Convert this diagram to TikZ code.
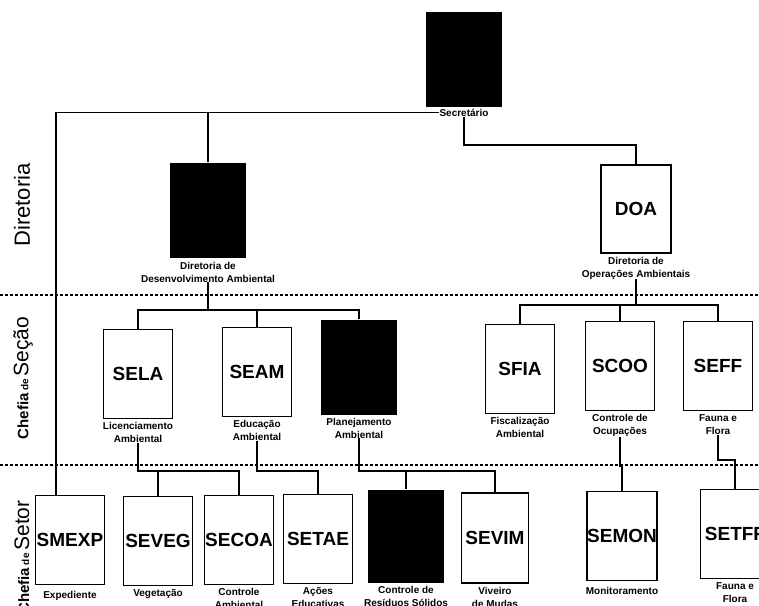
\documentclass[tikz,border=0pt]{standalone}
\usepackage{fontspec}
\setmainfont{Liberation Sans}
\usetikzlibrary{positioning}

\begin{document}
\begin{tikzpicture}[x=1pt, y=-1pt,
    unitbox/.style={draw, line width=1.4pt, minimum width=69pt, minimum height=89pt, inner sep=0pt, font=\fontsize{19}{19}\selectfont\bfseries},
    photobox/.style={fill=black, minimum width=76pt, minimum height=95pt, inner sep=0pt},
    caption/.style={font=\fontsize{10}{13}\selectfont\bfseries, align=center, inner sep=0pt},
    wire/.style={line width=1.3pt},
    tierline/.style={line width=1.1pt, dash pattern=on 3pt off 2pt}]
    \useasboundingbox (0,0) rectangle (759,605);
    \clip (0,0) rectangle (759,605);

    % Levels
    \draw[tierline] (0,295) -- (759,295);
    \draw[tierline] (0,465) -- (759,465);
    \node[rotate=90, font=\fontsize{22}{22}\selectfont] (diretoria) at (22,205) {Diretoria};
    \node[rotate=90] (chefsecao) at (23,378) {{\fontsize{15}{15}\selectfont\bfseries Chefia} {\fontsize{10}{10}\selectfont\bfseries de} {\fontsize{21}{21}\selectfont Seção}};
    \node[rotate=90] (chefsetor) at (22,557) {{\fontsize{15}{15}\selectfont\bfseries Chefia} {\fontsize{10}{10}\selectfont\bfseries de} {\fontsize{21}{21}\selectfont Setor}};

    % Secretario and directorates
    \node[photobox] (sec) at (464,59) {};
    \node[caption, below=2pt of sec] (seclbl) {Secretário};
    \node[photobox] (dda) at (208,210) {};
    \node[caption, below=4pt of dda] (ddalbl) {Diretoria de\\Desenvolvimento Ambiental};
    \node[unitbox, minimum width=70pt, minimum height=88pt] (doa) at (636,209) {DOA};
    \node[caption, below=3pt of doa] (doalbl) {Diretoria de\\Operações Ambientais};

    % Sections
    \node[unitbox] (sela) at (138,374) {SELA};
    \node[caption, below=3pt of sela] (selalbl) {Licenciamento\\Ambiental};
    \node[unitbox] (seam) at (257,372) {SEAM};
    \node[caption, below=3pt of seam] (seamlbl) {Educação\\Ambiental};
    \node[photobox] (spla) at (359,367) {};
    \node[caption, below=3pt of spla] (splalbl) {Planejamento\\Ambiental};
    \node[unitbox] (sfia) at (520,369) {SFIA};
    \node[caption, below=3pt of sfia] (sfialbl) {Fiscalização\\Ambiental};
    \node[unitbox] (scoo) at (620,366) {SCOO};
    \node[caption, below=3pt of scoo] (scoolbl) {Controle de\\Ocupações};
    \node[unitbox] (seff) at (718,366) {SEFF};
    \node[caption, below=3pt of seff] (sefflbl) {Fauna e\\Flora};

    % Sectors
    \node[unitbox] (smexp) at (70,540) {SMEXP};
    \node[caption, below=6pt of smexp] (smexplbl) {Expediente};
    \node[unitbox] (seveg) at (158,541) {SEVEG};
    \node[caption, below=3pt of seveg] (seveglbl) {Vegetação};
    \node[unitbox] (secoa) at (239,540) {SECOA};
    \node[caption, below=3pt of secoa] (secoalbl) {Controle\\Ambiental};
    \node[unitbox] (setae) at (318,539) {SETAE};
    \node[caption, below=3pt of setae] (setaelbl) {Ações\\Educativas};
    \node[photobox, minimum height=93pt] (sres) at (406,536) {};
    \node[caption, below=3pt of sres] (sreslbl) {Controle de\\Resíduos Sólidos};
    \node[unitbox, minimum width=67pt, minimum height=90pt] (sevim) at (495,538) {SEVIM};
    \node[caption, below=3pt of sevim] (sevimlbl) {Viveiro\\de Mudas};
    \node[unitbox] (semon) at (622,536) {SEMON};
    \node[caption, below=6pt of semon] (semonlbl) {Monitoramento};
    \node[unitbox] (setff) at (735,534) {SETFF};
    \node[caption, below=3pt of setff] (setfflbl) {Fauna e\\Flora};

    % Connectors
    \coordinate (trunk) at (56,117);
    \coordinate (busdoa) at (0,145);
    \coordinate (busdda) at (0,310);
    \coordinate (busopr) at (0,305);
    \coordinate (bussec) at (0,471);
    \coordinate (jogcoo) at (0,466);
    \coordinate (jogeff) at (0,460);
    \draw[wire] (seclbl.west) -| (smexp.north -| trunk);
    \draw[wire] (dda.north) -- (dda.north |- seclbl.west);
    \draw[wire] (seclbl.south) |- (busdoa -| doa.north) -- (doa.north);

    \draw[wire] (ddalbl.south) -- (ddalbl.south |- busdda);
    \draw[wire] (sela.north) |- (busdda -| spla.north) -- (spla.north);
    \draw[wire] (seam.north) -- (seam.north |- busdda);
    \draw[wire] (doalbl.south) -- (doalbl.south |- busopr);
    \draw[wire] (sfia.north) |- (busopr -| seff.north) -- (seff.north);
    \draw[wire] (scoo.north) -- (scoo.north |- busopr);

    \draw[wire] (selalbl.south) |- (bussec -| secoa.north) -- (secoa.north);
    \draw[wire] (seveg.north) -- (seveg.north |- bussec);
    \draw[wire] (seamlbl.south) |- (bussec -| setae.north) -- (setae.north);
    \draw[wire] (splalbl.south) |- (bussec -| sevim.north) -- (sevim.north);
    \draw[wire] (sres.north) -- (sres.north |- bussec);
    \draw[wire] (scoolbl.south) |- (jogcoo -| semon.north) -- (semon.north);
    \draw[wire] (sefflbl.south) |- (jogeff -| setff.north) -- (setff.north);
\end{tikzpicture}
\end{document}
